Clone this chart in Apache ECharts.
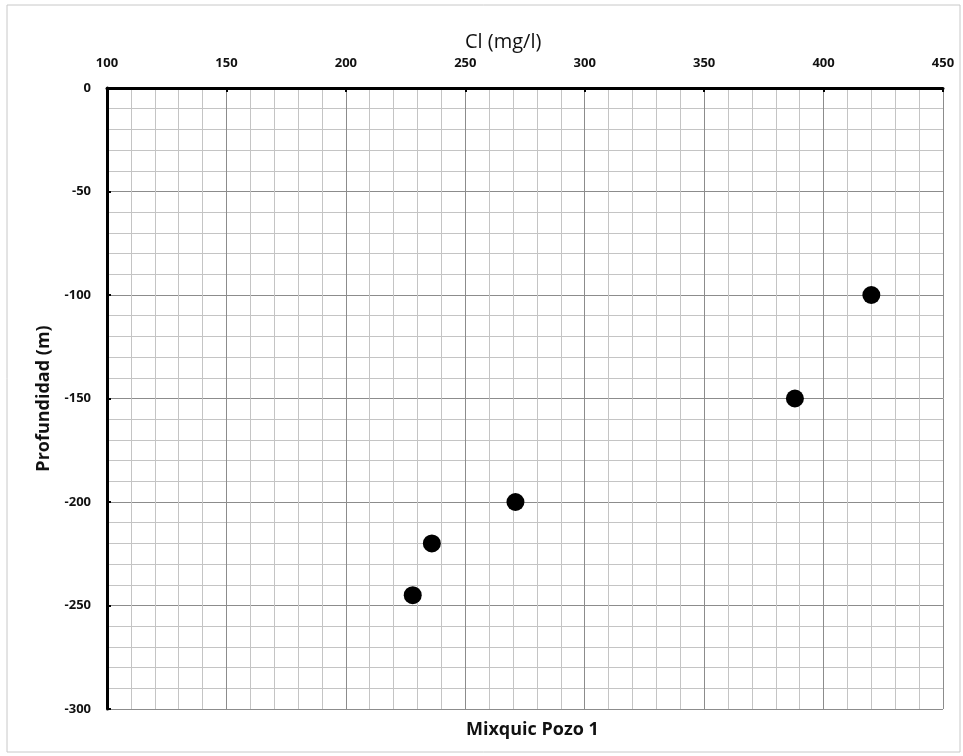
<!DOCTYPE html>
<html>
<head>
<meta charset="utf-8">
<script src="https://cdn.jsdelivr.net/npm/echarts@6/dist/echarts.min.js"></script>
<style>
  html, body { margin: 0; padding: 0; background: #fff; }
  #chart { width: 963px; height: 756px; }
</style>
</head>
<body>
<div id="chart"></div>
<script>
// Chloride concentration against depth, well Mixquic Pozo 1
const chloride = [420, 388, 271, 236, 228];     // Cl (mg/l)
const depth = [-100, -150, -200, -220, -245];   // m
const xTicks = [100, 150, 200, 250, 300, 350, 400, 450];
const yTicks = [0, -50, -100, -150, -200, -250, -300];

const points = chloride.map((c, i) => [c, depth[i]]);
const font = '"Open Sans", "Liberation Sans", sans-serif';

const chart = echarts.init(document.getElementById('chart'));
chart.setOption({
  animation: false,
  backgroundColor: '#fff',
  graphic: [{
    type: 'rect',
    shape: { x: 7, y: 5, width: 953, height: 747 },
    style: { fill: 'none', stroke: '#c8c8c8', lineWidth: 1 },
    silent: true
  }],
  title: [{
    text: 'Cl (mg/l)',
    left: 465,
    top: 32,
    padding: 0,
    textStyle: { fontFamily: font, fontSize: 20, fontWeight: 500, color: '#111' }
  }, {
    text: 'Mixquic Pozo 1',
    left: 466,
    top: 721,
    padding: 0,
    textStyle: { fontFamily: font, fontSize: 18, fontWeight: 'bold', color: '#111' }
  }],
  grid: { left: 107, right: 20, top: 88, bottom: 47 },
  xAxis: {
    type: 'value',
    position: 'top',
    min: xTicks[0],
    max: xTicks[xTicks.length - 1],
    interval: 50,
    axisLine: { show: true, lineStyle: { color: '#000', width: 3 } },
    axisTick: { show: true, inside: true, length: 4, lineStyle: { color: '#000', width: 2 } },
    axisLabel: { fontFamily: font, fontSize: 13, fontWeight: 'bold', color: '#111', margin: 18 },
    splitLine: { show: true, lineStyle: { color: '#8c8c8c', width: 1 } },
    minorTick: { show: false, splitNumber: 5 },
    minorSplitLine: { show: true, lineStyle: { color: '#c4c4c4', width: 1 } }
  },
  yAxis: {
    type: 'value',
    min: yTicks[yTicks.length - 1],
    max: yTicks[0],
    interval: 50,
    name: 'Profundidad (m)',
    nameLocation: 'middle',
    nameGap: 54,
    nameTextStyle: { fontFamily: font, fontSize: 18, fontWeight: 'bold', color: '#111' },
    axisLine: { show: true, onZero: false, lineStyle: { color: '#000', width: 3 } },
    axisTick: { show: true, inside: true, length: 4, lineStyle: { color: '#000', width: 2 } },
    axisLabel: { fontFamily: font, fontSize: 13, fontWeight: 'bold', color: '#111', margin: 16 },
    splitLine: { show: true, lineStyle: { color: '#8c8c8c', width: 1 } },
    minorTick: { show: false, splitNumber: 5 },
    minorSplitLine: { show: true, lineStyle: { color: '#c4c4c4', width: 1 } }
  },
  series: [{
    type: 'scatter',
    data: points,
    symbol: 'circle',
    symbolSize: 18,
    itemStyle: { color: '#000', opacity: 1 }
  }]
});
</script>
</body>
</html>
